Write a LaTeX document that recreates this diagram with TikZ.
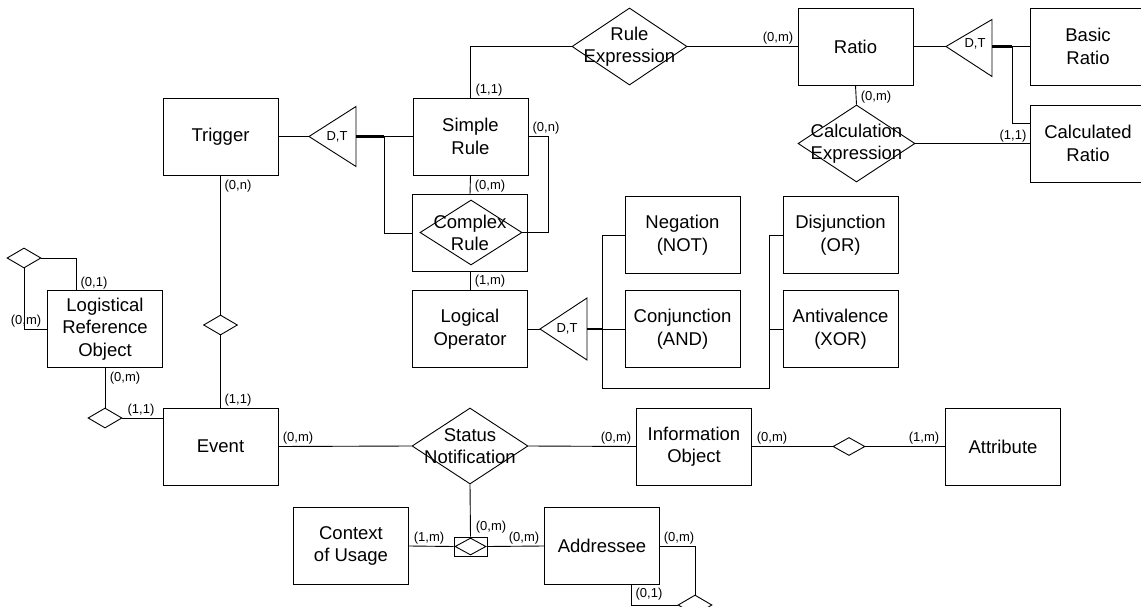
\documentclass[tikz,border=0pt]{standalone}
\usepackage{fontspec}
\setmainfont{Liberation Sans}
\usetikzlibrary{shapes.geometric}
\newcommand{\entfont}{\fontsize{18.5}{22.5}\selectfont}
\newcommand{\cardfont}{\fontsize{13}{15}\selectfont}
\begin{document}
\begin{tikzpicture}[x=1pt,y=-1pt,line width=0.9pt,
  ent/.style={draw, rectangle, minimum width=115pt, minimum height=77pt, inner sep=0pt, align=center, font=\entfont},
  rel/.style n args={2}{draw, diamond, inner sep=0pt, minimum width=#1, minimum height=#2},
  reltext/.style={align=center, font=\entfont, inner sep=0pt},
  card/.style={inner sep=0pt, font=\cardfont},
  isa/.style={inner sep=0pt, font=\cardfont},
  bold/.style={line width=2.2pt}
]
\useasboundingbox (0,0) rectangle (1141,607);

% entities
\node[ent] (TR) at (220.5,136.5) {Trigger};
\node[ent] (SR) at (470.5,136.5) {Simple\\Rule};
\node[ent, label={[reltext]center:Complex\\Rule}] (CRB) at (470,233) {};
\node[rel={102pt}{65pt}] (CRD) at (471,232.5) {};
\node[ent] (LO) at (470,329) {Logical\\Operator};
\node[ent] (RA) at (855.5,46.5) {Ratio};
\node[ent] (BR) at (1088,46.5) {Basic\\Ratio};
\node[ent] (CR) at (1088,143.5) {Calculated\\Ratio};
\node[ent] (LRO) at (105,329) {Logistical\\Reference\\Object};
\node[ent] (EV) at (220.5,446.5) {Event};
\node[ent] (IO) at (694,446.5) {Information\\Object};
\node[ent] (AT) at (1003,446.5) {Attribute};
\node[ent] (CU) at (351,546) {Context\\of Usage};
\node[ent] (AD) at (602,546) {Addressee};
\node[ent] (NE) at (682.5,235) {Negation\\(NOT)};
\node[ent] (CJ) at (682.5,329) {Conjunction\\(AND)};
\node[ent] (DJ) at (840.5,235) {Disjunction\\(OR)};
\node[ent] (AV) at (840.5,329) {Antivalence\\(XOR)};

% relationships
\node[rel={115pt}{77pt}, label={[reltext]center:Rule\\Expression}] (RE) at (629.5,46.5) {};
\node[rel={117pt}{77pt}, label={[reltext]center:Calculation\\Expression}] (CE) at (856.5,143.5) {};
\node[rel={116pt}{76pt}, label={[reltext]center:Status\\Notification}] (SN) at (470,446) {};
\node[rel={34pt}{20pt}] (D1) at (24,258) {};
\node[rel={34pt}{20pt}] (D2) at (220.5,325) {};
\node[rel={34pt}{20pt}] (D3) at (105,418) {};
\node[rel={32pt}{18pt}] (D4) at (849,446.5) {};
\node[rel={34pt}{20pt}] (D5) at (695,605) {};
\node[draw, rectangle, minimum width=33pt, minimum height=19pt, inner sep=0pt] (WK) at (470.5,546.5) {};
\node[rel={31pt}{17pt}] (WKD) at (470.5,546.5) {};

% generalisation triangles
\coordinate (T1tip) at (309,136.5);
\coordinate (T1base) at (356,136.5);
\draw (T1tip) -- (356,106.5) -- (356,166.5) -- cycle;
\node[isa] (T1) at (337,136.5) {D,T};
\coordinate (J1) at (384,136.5);

\coordinate (T2tip) at (946,46.5);
\coordinate (T2base) at (992,46.5);
\draw (T2tip) -- (992,19.5) -- (992,76.5) -- cycle;
\node[isa] (T2) at (975,44) {D,T};
\coordinate (J2) at (1012,46.5);

\coordinate (T3tip) at (540,329);
\coordinate (T3base) at (587,329);
\draw (T3tip) -- (587,298) -- (587,360) -- cycle;
\node[isa] (T3) at (567,329) {D,T};
\coordinate (J3) at (602,329);
\coordinate (C3) at (602,388);
\coordinate (C4) at (769,388);
\coordinate (J4) at (769,329);
\coordinate (C1) at (548,136.5);

% connectors: rules
\draw (TR.east) -- (T1tip);
\draw[bold] (T1base) -- (J1);
\draw (J1) -- (SR.west);
\draw (J1) |- (CRB.west);
\draw (SR.north) |- (RE.west);
\draw (RE.east) -- (RA.west);
\draw (SR.south) -- (CRB.north);
\draw (SR.east) -- (C1) |- (CRD.east);
\draw (CRB.south) -- (LO.north);
\draw (LO.east) -- (T3tip);
\draw[bold] (T3base) -- (J3);
\draw (J3) -- (CJ.west);
\draw (J3) |- (NE.west);
\draw (J3) -- (C3) -- (C4) |- (DJ.west);
\draw (J4) -- (AV.west);

% connectors: ratio
\draw (RA.east) -- (T2tip);
\draw[bold] (T2base) -- (J2);
\draw (J2) -- (BR.west);
\draw (J2) |- ([yshift=20.5pt]CR.west);
\draw (RA.south) -- (CE.north);
\draw (CE.east) -- (CR.west);

% connectors: events
\draw (TR.south) -- (D2.north);
\draw (D2.south) -- (EV.north);
\draw (D1.east) -| ([xshift=-29pt]LRO.north);
\draw (D1.south) |- (LRO.west);
\draw (LRO.south) -- (D3.north);
\draw (D3.east) -- (D3.east -| EV.west);
\draw (EV.east) -- (SN.west);
\draw (SN.east) -- (IO.west);
\draw (IO.east) -- (D4.west);
\draw (D4.east) -- (AT.west);
\draw (SN.south) -- (WK.north);
\draw (CU.east) -- (WK.west);
\draw (WK.east) -- (AD.west);
\draw (AD.east) -| (D5.north);
\draw ([xshift=29pt]AD.south) |- (D5.west);

% cardinalities
\node[card] at (489,90) {(1,1)};
\node[card] at (546,128) {(0,n)};
\node[card] at (490,186) {(0,m)};
\node[card] at (490,281) {(1,m)};
\node[card] at (778,38) {(0,m)};
\node[card] at (876,97) {(0,m)};
\node[card] at (1013,136) {(1,1)};
\node[card] at (238,186) {(0,n)};
\node[card] at (94,283) {(0,1)};
\node[card] at (26,321) {(0,m)};
\node[card] at (125,378) {(0,m)};
\node[card] at (238,400) {(1,1)};
\node[card] at (141,410) {(1,1)};
\node[card] at (298,438) {(0,m)};
\node[card] at (616,438) {(0,m)};
\node[card] at (772,438) {(0,m)};
\node[card] at (924,438) {(1,m)};
\node[card] at (491,527) {(0,m)};
\node[card] at (429,538) {(1,m)};
\node[card] at (524,538) {(0,m)};
\node[card] at (679,538) {(0,m)};
\node[card] at (649,594) {(0,1)};
\end{tikzpicture}
\end{document}
